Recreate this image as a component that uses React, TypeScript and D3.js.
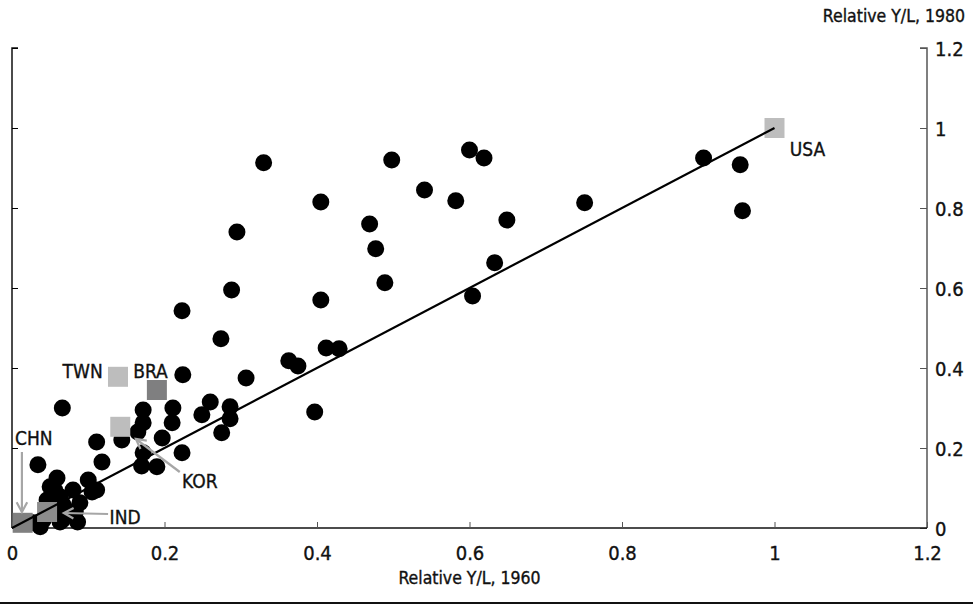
import React, { useEffect, useRef } from 'react';
import * as d3 from 'd3';

// Relative output per worker, 1960 vs 1980 (USA = 1)
const dotX = [
  0.330, 0.498, 0.600, 0.619, 0.541, 0.582, 0.405, 0.469, 0.649, 0.751,
  0.295, 0.477, 0.633, 0.288, 0.489, 0.405, 0.604, 0.223, 0.274, 0.363,
  0.375, 0.412, 0.429, 0.907, 0.955, 0.958, 0.397, 0.307, 0.224, 0.066,
  0.034, 0.172, 0.211, 0.260, 0.286, 0.249, 0.286, 0.172, 0.210, 0.165,
  0.275, 0.197, 0.144, 0.223, 0.172, 0.170, 0.190, 0.118, 0.111, 0.059,
  0.100, 0.111, 0.080, 0.050, 0.089, 0.046, 0.079, 0.041, 0.037, 0.063,
  0.069, 0.054, 0.028, 0.066, 0.056, 0.067, 0.083, 0.063, 0.086, 0.105,
];
const dotY = [
  0.913, 0.920, 0.945, 0.925, 0.845, 0.818, 0.815, 0.760, 0.770, 0.813,
  0.740, 0.698, 0.663, 0.595, 0.613, 0.570, 0.580, 0.543, 0.473, 0.418,
  0.405, 0.450, 0.448, 0.925, 0.908, 0.793, 0.290, 0.375, 0.383, 0.300,
  0.158, 0.295, 0.300, 0.315, 0.303, 0.283, 0.273, 0.263, 0.263, 0.240,
  0.238, 0.225, 0.220, 0.188, 0.188, 0.155, 0.153, 0.165, 0.215, 0.125,
  0.120, 0.095, 0.095, 0.103, 0.063, 0.070, 0.038, 0.020, 0.003, 0.078,
  0.050, 0.038, 0.013, 0.020, 0.095, 0.058, 0.040, 0.015, 0.015, 0.090,
];

const countries = ['USA', 'TWN', 'BRA', 'KOR', 'CHN', 'IND'];
const countryX = [1.0, 0.139, 0.19, 0.142, 0.014, 0.046];
const countryY = [1.0, 0.378, 0.345, 0.253, 0.013, 0.04];
const countryFill = ['#bdbdbd', '#bdbdbd', '#7f7f80', '#bdbdbd', '#808080', '#8c8c8c'];

// label anchors (data units)
const labelX = [1.02, 0.119, 0.159, 0.223, 0.004, 0.128];
const labelY = [0.93, 0.375, 0.375, 0.1, 0.2075, 0.01];
const labelAnchor = ['start', 'end', 'start', 'start', 'start', 'start'];

// arrows: [fromX, fromY, toX, toY]
const arrows = [
  [0.013, 0.19, 0.013, 0.04],
  [0.22, 0.14, 0.1625, 0.2225],
  [0.126, 0.035, 0.068, 0.0375],
];

const ticks = [0, 0.2, 0.4, 0.6, 0.8, 1, 1.2];

const W = 973;
const H = 607;
const FONT = '"DejaVu Sans Condensed", "Liberation Sans Narrow", sans-serif';

export default function App() {
  const ref = useRef<SVGSVGElement>(null);

  useEffect(() => {
    document.body.style.margin = '0';
    const svg = d3.select(ref.current);
    svg.selectAll('*').remove();

    const x = d3.scaleLinear().domain([0, 1.2]).range([12, 927]);
    const y = d3.scaleLinear().domain([0, 1.2]).range([528, 48]);
    const fmt = (d: number) => String(d);

    // text a touch heavier than regular
    const heavy = (sel: any) => sel.attr('stroke', '#111').attr('stroke-width', 0.35);

    // left axis (no labels)
    svg.append('g')
      .attr('transform', `translate(${x(0)},0)`)
      .call(d3.axisRight(y).tickValues(ticks).tickSize(6).tickFormat(() => ''))
      .call(g => g.select('.domain').attr('stroke', '#111').attr('stroke-width', 1.5).attr('d', `M6,${y(1.2)}H0V${y(0)}`));

    // right axis
    const ra = svg.append('g')
      .attr('transform', `translate(${x(1.2)},0)`)
      .call(d3.axisLeft(y).tickValues(ticks).tickSize(7).tickFormat(fmt as any));
    ra.select('.domain').attr('stroke', '#555').attr('stroke-width', 1.5).attr('d', `M-7,${y(1.2)}H0V${y(0)}`);
    ra.selectAll('.tick line').attr('stroke', '#555');
    ra.selectAll('.tick text')
      .attr('x', 8)
      .attr('dy', '0.36em')
      .attr('text-anchor', 'start')
      .attr('font-family', FONT)
      .attr('font-size', 20)
      .attr('fill', '#111')
      .call(heavy);

    // bottom axis
    const ba = svg.append('g')
      .attr('transform', `translate(0,${y(0)})`)
      .call(d3.axisTop(x).tickValues(ticks).tickSize(6).tickFormat(fmt as any));
    ba.select('.domain').attr('stroke', '#111').attr('stroke-width', 1.5).attr('d', `M${x(0)},0H${x(1.2)}`);
    ba.selectAll('.tick line').attr('stroke', '#555');
    ba.selectAll('.tick text')
      .attr('y', 32)
      .attr('font-family', FONT)
      .attr('font-size', 20)
      .attr('fill', '#111')
      .call(heavy);

    // titles
    svg.append('text')
      .attr('x', 965).attr('y', 22)
      .attr('text-anchor', 'end')
      .attr('font-family', FONT).attr('font-size', 17.5).attr('fill', '#111')
      .call(heavy)
      .text('Relative Y/L, 1980');
    svg.append('text')
      .attr('x', (x(0) + x(1.2)) / 2).attr('y', 584)
      .attr('text-anchor', 'middle')
      .attr('font-family', FONT).attr('font-size', 17.5).attr('fill', '#111')
      .call(heavy)
      .text('Relative Y/L, 1960');

    // bottom rule
    svg.append('line')
      .attr('x1', 0).attr('x2', W).attr('y1', 603).attr('y2', 603)
      .attr('stroke', '#111').attr('stroke-width', 2);

    // dots
    svg.append('g')
      .selectAll('circle')
      .data(dotX)
      .enter()
      .append('circle')
      .attr('cx', d => x(d))
      .attr('cy', (d, i) => y(dotY[i]))
      .attr('r', 8.5)
      .attr('fill', '#000');

    // country squares
    const sq = 20;
    svg.append('g')
      .selectAll('rect')
      .data(countries)
      .enter()
      .append('rect')
      .attr('x', (d, i) => x(countryX[i]) - sq / 2)
      .attr('y', (d, i) => y(countryY[i]) - sq / 2)
      .attr('width', sq)
      .attr('height', sq)
      .attr('fill', (d, i) => countryFill[i]);

    // 45 degree line
    svg.append('line')
      .attr('x1', x(0)).attr('y1', y(0))
      .attr('x2', x(1)).attr('y2', y(1))
      .attr('stroke', '#000').attr('stroke-width', 2.2);

    // arrows
    const ag = svg.append('g').attr('stroke', '#a6a6a6').attr('stroke-width', 2.2).attr('fill', 'none');
    arrows.forEach(a => {
      const x1 = x(a[0]), y1 = y(a[1]), x2 = x(a[2]), y2 = y(a[3]);
      const ang = Math.atan2(y2 - y1, x2 - x1);
      const len = 11;
      const spread = 0.5;
      ag.append('line').attr('x1', x1).attr('y1', y1).attr('x2', x2).attr('y2', y2);
      const p = d3.path();
      p.moveTo(x2 - len * Math.cos(ang - spread), y2 - len * Math.sin(ang - spread));
      p.lineTo(x2, y2);
      p.lineTo(x2 - len * Math.cos(ang + spread), y2 - len * Math.sin(ang + spread));
      ag.append('path').attr('d', p.toString());
    });

    // labels
    svg.append('g')
      .selectAll('text')
      .data(countries)
      .enter()
      .append('text')
      .attr('x', (d, i) => x(labelX[i]))
      .attr('y', (d, i) => y(labelY[i]))
      .attr('text-anchor', (d, i) => labelAnchor[i])
      .attr('font-family', FONT)
      .attr('font-size', 19)
      .attr('fill', '#111')
      .call(heavy)
      .text(d => d);
  }, []);

  return <svg ref={ref} width={W} height={H} style={{ display: 'block' }} />;
}
